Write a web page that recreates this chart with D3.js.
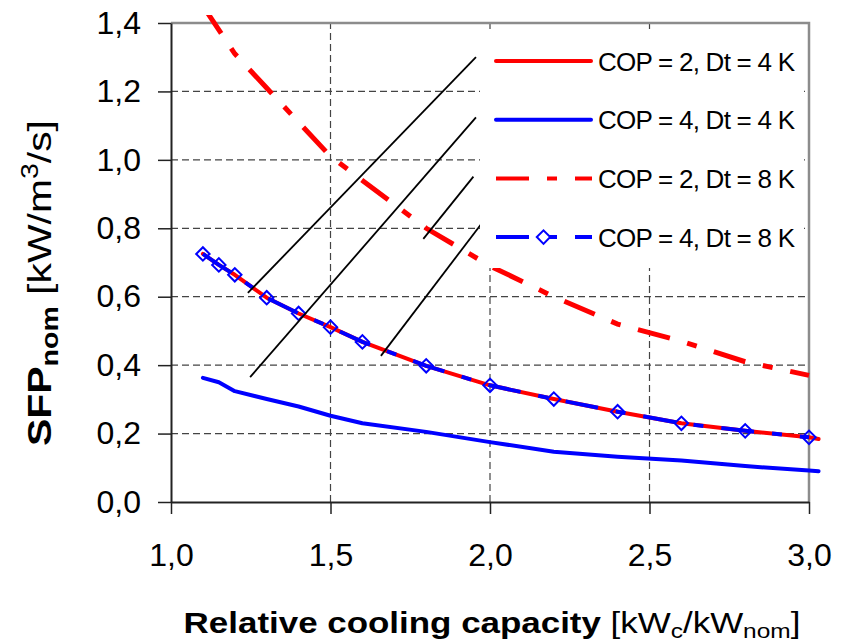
<!DOCTYPE html>
<html>
<head>
<meta charset="utf-8">
<script src="https://cdn.jsdelivr.net/npm/d3@7"></script>
<style>
  body { margin: 0; background: #fff; }
  svg { display: block; font-family: "Liberation Sans", Arial, sans-serif; }
</style>
</head>
<body>
<script>
// values
const capSolid = [1.1, 1.15, 1.2, 1.3, 1.4, 1.5, 1.6, 1.8, 2.0, 2.2, 2.4, 2.6, 2.8, 3.0, 3.03];
const cop2dt4 = [0.725, 0.693, 0.664, 0.597, 0.551, 0.511, 0.468, 0.398, 0.341, 0.301, 0.264, 0.230, 0.208, 0.189, 0.184];
const cop4dt4 = [0.363, 0.350, 0.324, 0.301, 0.279, 0.252, 0.230, 0.205, 0.175, 0.147, 0.132, 0.121, 0.105, 0.092, 0.090];

const capCop2Dt8 = [1.1, 1.2, 1.3, 1.4, 1.5, 1.6, 1.8, 2.0, 2.2, 2.4, 2.6, 2.8, 3.0];
const cop2dt8 = [1.45, 1.31, 1.21, 1.11, 1.01, 0.94, 0.80, 0.69, 0.60, 0.52, 0.47, 0.41, 0.37];

const capCop4Dt8 = [1.1, 1.15, 1.2, 1.3, 1.4, 1.5, 1.6, 1.8, 2.0, 2.2, 2.4, 2.6, 2.8, 3.0];
const cop4dt8 = [0.725, 0.693, 0.664, 0.597, 0.551, 0.511, 0.468, 0.398, 0.341, 0.301, 0.264, 0.230, 0.208, 0.189];

// thin black pointer lines (x1, y1, x2, y2 in data units)
const pointerLines = [
  [1.241, 0.611, 1.956, 1.300],
  [1.248, 0.365, 1.956, 1.124],
  [1.791, 0.769, 1.948, 0.951],
  [1.658, 0.427, 1.972, 0.812]
];

const xTicks = [1.0, 1.5, 2.0, 2.5, 3.0];
const yTicks = [0, 0.2, 0.4, 0.6, 0.8, 1.0, 1.2, 1.4];
const legendLabels = ["COP = 2, Dt = 4 K", "COP = 4, Dt = 4 K", "COP = 2, Dt = 8 K", "COP = 4, Dt = 8 K"];

const width = 844, height = 644;
const dashDot = "33,18,10,18";
const fmt = d => d3.format(".1f")(d).replace(".", ",");

const x = d3.scaleLinear().domain([1, 3]).range([171, 809]);
const y = d3.scaleLinear().domain([0, 1.4]).range([502, 23]);

const svg = d3.select("body").append("svg")
  .attr("width", width)
  .attr("height", height);

svg.append("rect").attr("width", width).attr("height", height).attr("fill", "#fff");

// grid
const grid = svg.append("g").attr("stroke", "#444").attr("stroke-width", 1.2).attr("stroke-dasharray", "7,4");
grid.selectAll(".h").data(yTicks.slice(1, -1)).join("line")
  .attr("x1", x(1)).attr("x2", x(3))
  .attr("y1", d => y(d)).attr("y2", d => y(d));
grid.selectAll(".v").data(xTicks.slice(1, -1)).join("line")
  .attr("y1", y(0)).attr("y2", y(1.4))
  .attr("x1", d => x(d)).attr("x2", d => x(d));

// frame: grey top/right, dark left/bottom
svg.append("path")
  .attr("d", `M${x(1)},${y(1.4)}H${x(3)}V${y(0)}`)
  .attr("fill", "none").attr("stroke", "#8c8c8c").attr("stroke-width", 2.5);

const yAxis = svg.append("g")
  .attr("transform", `translate(${x(1)},0)`)
  .call(d3.axisLeft(y).tickValues(yTicks).tickSize(13).tickSizeOuter(0).tickPadding(17).tickFormat(fmt));
const xAxis = svg.append("g")
  .attr("transform", `translate(0,${y(0)})`)
  .call(d3.axisBottom(x).tickValues(xTicks).tickSize(12).tickSizeOuter(0).tickPadding(29).tickFormat(fmt));

[yAxis, xAxis].forEach(a => {
  a.select(".domain").attr("stroke", "#222").attr("stroke-width", 2);
  a.selectAll(".tick line").attr("stroke", "#222").attr("stroke-width", 1.5);
  a.selectAll(".tick text").attr("font-size", 32).attr("fill", "#000")
    .attr("font-family", "'Liberation Sans', Arial, sans-serif");
});

// series
svg.append("clipPath").attr("id", "clip")
  .append("rect").attr("x", x(1)).attr("y", 15).attr("width", 651).attr("height", y(0) - 15);

const line = d3.line().x(d => x(d[0])).y(d => y(d[1]));
const plot = svg.append("g").attr("clip-path", "url(#clip)").attr("fill", "none");

plot.append("path")
  .attr("d", line(d3.zip(capSolid, cop4dt4)))
  .attr("stroke", "#0000ff").attr("stroke-width", 4).attr("stroke-linejoin", "round").attr("stroke-linecap", "round");

plot.append("path")
  .attr("d", line(d3.zip(capCop2Dt8, cop2dt8)))
  .attr("stroke", "#ff0000").attr("stroke-width", 5).attr("stroke-dasharray", dashDot);

plot.append("path")
  .attr("d", line(d3.zip(capSolid, cop2dt4)))
  .attr("stroke", "#ff0000").attr("stroke-width", 4).attr("stroke-linejoin", "round").attr("stroke-linecap", "round");

plot.append("path")
  .attr("d", line(d3.zip(capCop4Dt8, cop4dt8)))
  .attr("stroke", "#0000ff").attr("stroke-width", 4).attr("stroke-dasharray", dashDot);

const diamond = d3.symbol().type(d3.symbolSquare).size(90);
svg.append("g").selectAll("path")
  .data(d3.zip(capCop4Dt8, cop4dt8)).join("path")
  .attr("d", diamond)
  .attr("transform", d => `translate(${x(d[0])},${y(d[1])}) rotate(45)`)
  .attr("fill", "none").attr("stroke", "#0000ff").attr("stroke-width", 2);

svg.append("g").selectAll("line")
  .data(pointerLines).join("line")
  .attr("x1", d => x(d[0])).attr("y1", d => y(d[1]))
  .attr("x2", d => x(d[2])).attr("y2", d => y(d[3]))
  .attr("stroke", "#000").attr("stroke-width", 1.8);

// legend
svg.append("rect").attr("x", 480).attr("y", 31).attr("width", 324).attr("height", 237).attr("fill", "#fff");
const legendStyle = [
  { color: "#ff0000", dash: null, marker: false },
  { color: "#0000ff", dash: null, marker: false },
  { color: "#ff0000", dash: dashDot, marker: false },
  { color: "#0000ff", dash: dashDot, marker: true }
];
const leg = svg.append("g").selectAll("g")
  .data(legendLabels).join("g")
  .attr("transform", (d, i) => `translate(0,${61 + i * 58.7})`);
leg.append("line")
  .attr("x1", 496)
  .attr("x2", (d, i) => legendStyle[i].dash ? 592 : 591)
  .attr("stroke", (d, i) => legendStyle[i].color)
  .attr("stroke-width", 4)
  .attr("stroke-linecap", (d, i) => legendStyle[i].dash ? "butt" : "round")
  .attr("stroke-dasharray", (d, i) => legendStyle[i].dash);
leg.filter((d, i) => legendStyle[i].marker).append("path")
  .attr("d", diamond)
  .attr("transform", "translate(543.5,0) rotate(45)")
  .attr("fill", "#fff").attr("stroke", "#0000ff").attr("stroke-width", 2);
leg.append("text")
  .attr("x", 598).attr("y", 9.5)
  .attr("font-size", 26)
  .attr("textLength", 197).attr("lengthAdjust", "spacing")
  .text(d => d);

// axis titles
const xt = svg.append("text")
  .attr("text-anchor", "middle")
  .attr("transform", "translate(492,633) scale(1.165,1)")
  .attr("font-size", 30);
xt.append("tspan").attr("font-weight", "bold").text("Relative cooling capacity");
xt.append("tspan").text(" [kW");
xt.append("tspan").attr("font-size", 21).attr("dy", 5).text("c");
xt.append("tspan").attr("dy", -5).text("/kW");
xt.append("tspan").attr("font-size", 21).attr("dy", 5).text("nom");
xt.append("tspan").attr("dy", -5).text("]");

const yt = svg.append("text")
  .attr("text-anchor", "middle")
  .attr("transform", "translate(51,283) rotate(-90) scale(1.24,1)")
  .attr("font-size", 33);
yt.append("tspan").attr("font-weight", "bold").text("SFP");
yt.append("tspan").attr("font-weight", "bold").attr("font-size", 23).attr("dy", 7).text("nom");
yt.append("tspan").attr("dy", -7).text(" [kW/m");
yt.append("tspan").attr("font-size", 23).attr("dy", -13).text("3");
yt.append("tspan").attr("dy", 13).text("/s]");
</script>
</body>
</html>
